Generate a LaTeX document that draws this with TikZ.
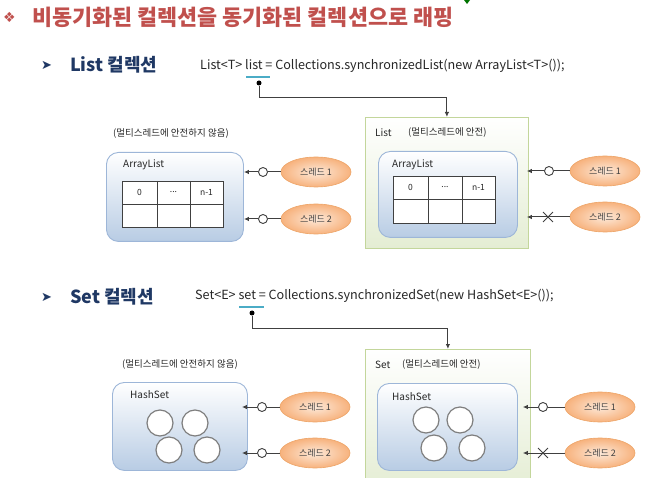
\documentclass[tikz,border=0pt]{standalone}
\usepackage{fontspec}
\setmainfont{Noto Sans CJK KR}
\newfontfamily\symfont{DejaVu Sans}
\usetikzlibrary{arrows.meta,shapes.misc,shapes.geometric}

\definecolor{titlered}{HTML}{C0504D}
\definecolor{navy}{HTML}{1F3864}
\definecolor{codegray}{HTML}{262626}
\definecolor{linegray}{HTML}{404040}
\definecolor{bluefill}{HTML}{B8CCE4}
\definecolor{blueline}{HTML}{9DB6D8}
\definecolor{greenfill}{HTML}{E4EDD3}
\definecolor{greenline}{HTML}{C3D69B}
\definecolor{orangein}{HTML}{FDE9D9}
\definecolor{orangeout}{HTML}{F7B27D}
\definecolor{orangeline}{HTML}{EDA467}
\definecolor{cyanline}{HTML}{4BACC6}
\definecolor{elemline}{HTML}{7F7F7F}

\begin{document}
\begin{tikzpicture}[x=1pt,y=-1pt,
  wrapbox/.style={draw=greenline, line width=0.8pt, top color=white, bottom color=greenfill, anchor=north west, inner sep=0pt},
  collbox/.style={draw=blueline, line width=0.9pt, rounded corners=12pt, top color=white, bottom color=bluefill, anchor=north west, inner sep=0pt},
  thread/.style={ellipse, draw=orangeline, line width=0.6pt, inner color=orangein, outer color=orangeout, minimum width=70pt, minimum height=30pt, inner sep=0pt, font=\fontsize{9}{10}\selectfont, text=linegray},
  ring/.style={circle, draw=linegray, line width=0.9pt, fill=white, minimum size=9pt, inner sep=0pt},
  xmark/.style={cross out, draw=linegray, line width=0.9pt, minimum width=9pt, minimum height=9pt, inner sep=0pt},
  dotmark/.style={circle, fill=black, minimum size=5pt, inner sep=0pt},
  wire/.style={draw=linegray, line width=1pt},
  tip/.style={-{Latex[length=5pt,width=4.5pt]}},
  elem/.style={circle, draw=elemline, line width=1.2pt, fill=white, minimum size=26pt, inner sep=0pt},
  note/.style={anchor=west, inner sep=0pt, font=\fontsize{9.5}{11}\selectfont, text=codegray},
  small/.style={anchor=west, inner sep=0pt, font=\fontsize{10}{12}\selectfont, text=codegray},
  cell/.style={inner sep=0pt, font=\fontsize{8.5}{10}\selectfont, text=codegray},
  code/.style={anchor=west, inner sep=0pt, font=\fontsize{12.6}{14}\selectfont, text=codegray},
  heading/.style={anchor=west, inner sep=0pt, font=\fontsize{18}{20}\selectfont\bfseries, text=navy},
  bullet/.style={anchor=west, inner sep=0pt, font=\symfont\fontsize{13}{14}\selectfont, text=navy},
  grid/.style={draw=linegray, line width=0.8pt, fill=white}
]
\useasboundingbox (0,0) rectangle (672,478);

% title line
\node[anchor=west, inner sep=0pt, font=\symfont\fontsize{14}{16}\selectfont, text=titlered] (tb) at (3,17) {❖};
\node[anchor=west, inner sep=0pt, font=\fontsize{21.8}{24}\selectfont\bfseries, text=titlered] (title) at (32,17) {비동기화된 컬렉션을 동기화된 컬렉션으로 래핑};
\fill[green!45!black] (464,0) -- (470,0) -- (467,4) -- cycle;

% ---------- List section ----------
\node[bullet] (lb) at (41,65) {➤};
\node[heading] (lh) at (70,65) {List 컬렉션};
\node[code] (lcode) at (200,66) {List<T> list = Collections.synchronizedList(new ArrayList<T>());};
\draw[cyanline, line width=2pt] (246,77) -- (270,77);

% unsynchronized ArrayList
\node[note] (lnote) at (113,134) {(멀티스레드에 안전하지 않음)};
\node[collbox, minimum width=137pt, minimum height=89pt] (la) at (106,152) {};
\node[small] (lal) at (123,165) {ArrayList};
\draw[grid] (122,181) rectangle (223,227);
\draw[linegray, line width=0.8pt] (157,181) -- (157,227) (190,181) -- (190,227) (122,204) -- (223,204);
\node[cell] at (139.5,192.5) {0};
\node[cell] at (173.5,192.5) {...};
\node[cell] at (206.5,192.5) {n-1};

\node[thread] (lt1) at (316,172) {스레드 1};
\node[thread] (lt2) at (316,219) {스레드 2};
\node[ring] (lr1) at (263,172) {};
\node[ring] (lr2) at (263,219) {};
\draw[wire] (lt1.west) -- (lr1.east);
\draw[wire, tip] (lr1.west) -- (la.east |- lr1);
\draw[wire] (lt2.west) -- (lr2.east);
\draw[wire, tip] (lr2.west) -- (la.east |- lr2);

% synchronized List wrapper
\node[wrapbox, minimum width=163pt, minimum height=131pt] (gl) at (365,117) {};
\node[small] (gll) at (375,133) {List};
\node[note] (glnote) at (408,133) {(멀티스레드에 안전)};
\node[collbox, minimum width=139pt, minimum height=86pt] (ra) at (378,151) {};
\node[small] (ral) at (392,165) {ArrayList};
\draw[grid] (393,176) rectangle (495,223);
\draw[linegray, line width=0.8pt] (428,176) -- (428,223) (462,176) -- (462,223) (393,199) -- (495,199);
\node[cell] at (410.5,187.5) {0};
\node[cell] at (445,187.5) {...};
\node[cell] at (478.5,187.5) {n-1};

\node[thread] (rt1) at (605,171) {스레드 1};
\node[thread] (rt2) at (605,217) {스레드 2};
\node[ring] (rr1) at (549,171) {};
\draw[wire] (rt1.west) -- (rr1.east);
\draw[wire, tip, shorten >=-2pt] (rr1.west) -- (gl.east |- rr1);
\draw[wire, tip, shorten >=-2pt] (rt2.west) -- (gl.east |- rt2);
\node[xmark] (rx2) at (548,217) {};

\node[dotmark] (ld) at (259,83) {};
\coordinate (lbend) at (259,98);
\draw[wire, tip] (ld) -- (lbend) -| (gl.north);

% ---------- Set section ----------
\node[bullet] (sb) at (41,297) {➤};
\node[heading] (sh) at (70,297) {Set 컬렉션};
\node[code] (scode) at (195,296) {Set<E> set = Collections.synchronizedSet(new HashSet<E>());};
\draw[cyanline, line width=2pt] (239,307) -- (264,307);

% unsynchronized HashSet
\node[note] (snote) at (122,365) {(멀티스레드에 안전하지 않음)};
\node[collbox, minimum width=135pt, minimum height=88pt] (ls) at (112,382) {};
\node[small] (lsl) at (130,395) {HashSet};
\node[elem] at (160,423) {};
\node[elem] at (195,423) {};
\node[elem] at (169,450) {};
\node[elem] at (207,450) {};

\node[thread] (st1) at (315,407) {스레드 1};
\node[thread] (st2) at (315,453) {스레드 2};
\node[ring] (sr1) at (262,407) {};
\node[ring] (sr2) at (262,453) {};
\draw[wire] (st1.west) -- (sr1.east);
\draw[wire, tip, shorten >=-6pt] (sr1.west) -- (ls.east |- sr1);
\draw[wire] (st2.west) -- (sr2.east);
\draw[wire, tip, shorten >=-6pt] (sr2.west) -- (ls.east |- sr2);

% synchronized Set wrapper
\node[wrapbox, minimum width=165pt, minimum height=140pt] (gs) at (365,349) {};
\node[small] (gsl) at (375,365) {Set};
\node[note] (gsnote) at (402,365) {(멀티스레드에 안전)};
\node[collbox, minimum width=140pt, minimum height=87pt] (rs) at (377,383) {};
\node[small] (rsl) at (392,397) {HashSet};
\node[elem] at (426,420) {};
\node[elem] at (460,420) {};
\node[elem] at (434,448) {};
\node[elem] at (472,448) {};

\node[thread] (qt1) at (600,407) {스레드 1};
\node[thread] (qt2) at (600,453) {스레드 2};
\node[ring] (qr1) at (543,407) {};
\draw[wire] (qt1.west) -- (qr1.east);
\draw[wire, tip, shorten >=-8pt] (qr1.west) -- (gs.east |- qr1);
\draw[wire, tip, shorten >=-8pt] (qt2.west) -- (gs.east |- qt2);
\node[xmark] (qx2) at (543,453) {};

\node[dotmark] (sd) at (252,313) {};
\coordinate (sbend) at (252,329);
\draw[wire, tip] (sd) -- (sbend) -| (gs.north);
\end{tikzpicture}
\end{document}
